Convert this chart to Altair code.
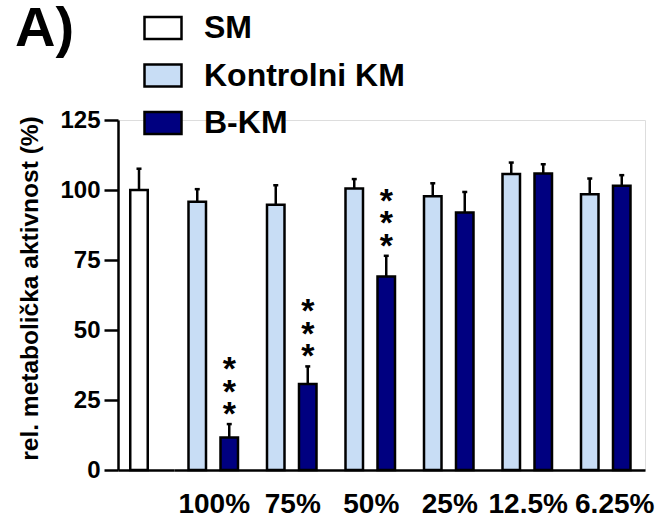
import altair as alt
import pandas as pd

# Concentrations of the conditioned medium
concentrations = ["100%", "75%", "50%", "25%", "12.5%", "6.25%"]
series_names = ["SM", "Kontrolni KM", "B-KM"]
series_fills = ["#ffffff", "#c8ddf5", "#000080"]

# Relative metabolic activity (%), mean and upper error (SD)
sm_mean = [100.0]
sm_err = [7.6]
kontrolni_mean = [95.8, 94.7, 100.5, 97.8, 105.7, 98.5]
kontrolni_err = [4.5, 7.0, 3.4, 4.6, 4.1, 5.6]
bkm_mean = [11.6, 30.7, 69.1, 92.0, 105.9, 101.5]
bkm_err = [4.8, 6.3, 7.4, 7.3, 3.3, 3.8]
bkm_significant = [True, True, True, False, False, False]

FONT = "Liberation Sans"

sm_df = pd.DataFrame({
    "group": ["SM"],
    "series": ["SM"],
    "mean": sm_mean,
    "upper": [m + e for m, e in zip(sm_mean, sm_err)],
})

grp_df = pd.concat([
    pd.DataFrame({
        "group": concentrations,
        "series": "Kontrolni KM",
        "mean": kontrolni_mean,
        "upper": [m + e for m, e in zip(kontrolni_mean, kontrolni_err)],
        "sig": [False] * len(concentrations),
    }),
    pd.DataFrame({
        "group": concentrations,
        "series": "B-KM",
        "mean": bkm_mean,
        "upper": [m + e for m, e in zip(bkm_mean, bkm_err)],
        "sig": bkm_significant,
    }),
], ignore_index=True)

y_axis = alt.Axis(
    values=[0, 25, 50, 75, 100, 125],
    title="rel. metabolička aktivnost (%)",
    grid=False,
    domainColor="black", domainWidth=2.5,
    tickColor="black", tickWidth=2.5, tickSize=14,
    labelFontSize=24, labelFontWeight="bold", labelColor="black",
    labelPadding=4, labelFont=FONT,
    titleFontSize=24.5, titleFontWeight="bold", titleColor="black",
    titleFont=FONT, titlePadding=17, titleY=168,
)
y_scale = alt.Scale(domain=[0, 125], nice=False, zero=True)


def y_enc(field):
    return alt.Y(f"{field}:Q", scale=y_scale, axis=y_axis)


color = alt.Color(
    "series:N",
    scale=alt.Scale(domain=series_names, range=series_fills),
    legend=alt.Legend(
        title=None, orient="none", legendX=25, legendY=-112,
        direction="vertical", padding=0,
        symbolType="M-1,-0.595H1V0.595H-1Z", symbolSize=1369,
        symbolStrokeColor="black", symbolStrokeWidth=2.5, symbolOpacity=1,
        labelFontSize=32, labelFontWeight="bold", labelFont=FONT,
        labelColor="black", labelOffset=21, rowPadding=10.5, labelLimit=500,
    ),
)

bar_style = dict(width=17.5, stroke="black", strokeWidth=2.5, strokeJoin="miter", opacity=1)

# Left part: the SM reference bar on its own band scale
x_sm = alt.X(
    "group:N",
    scale=alt.Scale(domain=["SM"], range=[0, 56], paddingInner=0,
                    paddingOuter=0.1667, align=0),
    axis=alt.Axis(labels=False, ticks=False, title=None, orient="bottom",
                  domainColor="black", domainWidth=2.5),
)
sm_bar = alt.Chart(sm_df).mark_bar(**bar_style).encode(x=x_sm, y=y_enc("mean"), color=color)
sm_rule = alt.Chart(sm_df).mark_rule(color="black", strokeWidth=2.5).encode(
    x=x_sm, y=y_enc("mean"), y2="upper:Q")
sm_cap = alt.Chart(sm_df).mark_tick(color="black", thickness=2.5, size=5, opacity=1).encode(
    x=x_sm, y=y_enc("upper"))
sm_layer = alt.layer(sm_bar, sm_rule, sm_cap)

# Right part: grouped bars per concentration
x_grp = alt.X(
    "group:N",
    sort=concentrations,
    scale=alt.Scale(domain=concentrations, range=[56, 527], paddingInner=0, paddingOuter=0),
    axis=alt.Axis(labels=True, ticks=False, title=None, orient="bottom",
                  domainColor="black", domainWidth=2.5, labelAngle=0,
                  labelFontSize=28, labelFontWeight="bold", labelFont=FONT,
                  labelColor="black", labelPadding=20,
                  labelOffset={"condition": {"test": "datum.value == '6.25%'", "value": 9},
                               "value": 1}),
)
x_off = alt.XOffset(
    "series:N",
    scale=alt.Scale(domain=["Kontrolni KM", "B-KM"], paddingInner=0, paddingOuter=0.2266),
)
grp_bar = alt.Chart(grp_df).mark_bar(**bar_style).encode(
    x=x_grp, xOffset=x_off, y=y_enc("mean"), color=color)
grp_rule = alt.Chart(grp_df).mark_rule(color="black", strokeWidth=2.5).encode(
    x=x_grp, xOffset=x_off, y=y_enc("mean"), y2="upper:Q")
grp_cap = alt.Chart(grp_df).mark_tick(color="black", thickness=2.5, size=5, opacity=1).encode(
    x=x_grp, xOffset=x_off, y=y_enc("upper"))

# Three stacked asterisks above each significant bar
star_layers = [
    alt.Chart(grp_df).transform_filter("datum.sig").mark_text(
        text="*", baseline="alphabetic", fontSize=34, fontWeight="bold", font=FONT,
        color="black", dy=1 - 22.5 * k,
    ).encode(x=x_grp, xOffset=x_off, y=y_enc("upper"))
    for k in range(3)
]
grp_layer = alt.layer(grp_bar, grp_rule, grp_cap, *star_layers)

chart = alt.layer(sm_layer, grp_layer).resolve_scale(
    x="independent"
).properties(
    width=527, height=350,
    title=alt.TitleParams("A)", anchor="start", frame="group", fontSize=56,
                          fontWeight="bold", font=FONT, color="black",
                          baseline="alphabetic", offset=0, dx=-103, dy=94),
    autosize=alt.AutoSizeParams(type="none"),
    padding={"left": 118, "top": 120, "right": 19, "bottom": 51},
).configure_view(stroke=None).configure(font=FONT)

chart.save("out.html", embed_options={"renderer": "svg", "actions": False})
